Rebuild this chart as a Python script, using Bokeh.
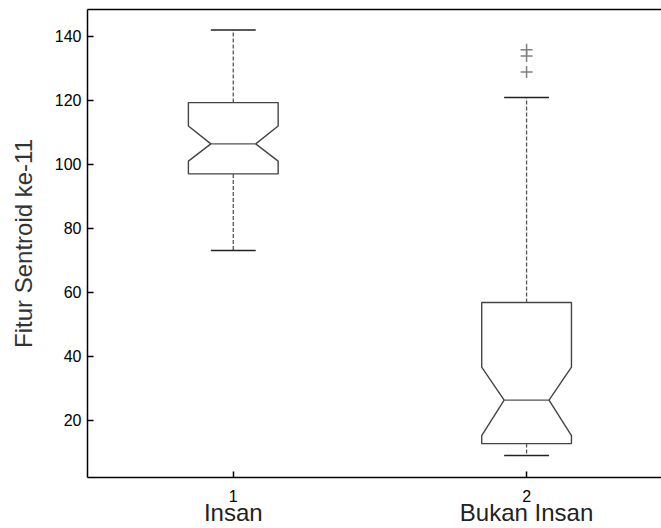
from bokeh.plotting import figure
from bokeh.models import LinearAxis, FixedTicker, Range1d
from bokeh.embed import file_html
from bokeh.resources import INLINE

# ---- data ----
categories = ["Insan", "Bukan Insan"]
positions = [1, 2]
tick_labels = ["1", "2"]
q1 = [97.0, 12.7]
median = [106.4, 26.3]
q3 = [119.3, 56.8]
notch_lo = [101.0, 15.2]
notch_hi = [112.0, 36.6]
whisker_lo = [73.1, 9.0]
whisker_hi = [142.0, 120.9]
outliers = [[], [135.8, 133.9, 128.9]]
y_ticks = [20, 40, 60, 80, 100, 120, 140]

# ---- style ----
HALF_W = 0.153
FONT = "Liberation Sans"

p = figure(width=661, height=528,
           x_range=Range1d(0.503, 2.46), y_range=Range1d(2.1, 148.4),
           output_backend="svg", toolbar_location=None,
           x_axis_location=None, y_axis_location=None,
           min_border_left=87, min_border_top=9, min_border_right=0,
           min_border_bottom=0)
p.outline_line_color = None
p.grid.visible = False
p.background_fill_color = "white"

# left axis
yax = LinearAxis(ticker=FixedTicker(ticks=y_ticks), axis_label="Fitur Sentroid ke-11")
yax.axis_line_width = 1.5
yax.axis_line_color = "black"
yax.major_tick_in = 6
yax.major_tick_out = 0
yax.major_tick_line_width = 1.5
yax.minor_tick_line_color = None
yax.major_label_text_font = FONT
yax.major_label_text_font_size = "16px"
yax.major_label_text_color = "black"
yax.major_label_standoff = 6
yax.axis_label_text_font = FONT
yax.axis_label_text_font_size = "24px"
yax.axis_label_text_font_style = "normal"
yax.axis_label_text_color = "#333333"
yax.axis_label_standoff = 15
p.add_layout(yax, "left")

# top frame line
tax = LinearAxis(ticker=FixedTicker(ticks=[]))
tax.axis_line_width = 1.5
tax.axis_line_color = "black"
tax.major_tick_in = 0
tax.major_tick_out = 0
tax.minor_tick_line_color = None
tax.major_label_text_font_size = "0px"
tax.major_label_standoff = 0
p.add_layout(tax, "above")

# bottom axis with numeric ticks
xax = LinearAxis(ticker=FixedTicker(ticks=positions),
                 major_label_overrides={pos: lab for pos, lab in zip(positions, tick_labels)})
xax.axis_line_width = 1.5
xax.axis_line_color = "black"
xax.major_tick_in = 6
xax.major_tick_out = 0
xax.major_tick_line_width = 1.5
xax.minor_tick_line_color = None
xax.major_label_text_font = FONT
xax.major_label_text_font_size = "16px"
xax.major_label_text_color = "black"
xax.major_label_standoff = 12
p.add_layout(xax, "below")

# bottom axis with category names
cax = LinearAxis(ticker=FixedTicker(ticks=positions),
                 major_label_overrides={pos: lab for pos, lab in zip(positions, categories)})
cax.axis_line_color = None
cax.major_tick_line_color = None
cax.minor_tick_line_color = None
cax.major_tick_in = 0
cax.major_tick_out = 0
cax.major_label_text_font = FONT
cax.major_label_text_font_size = "24px"
cax.major_label_text_color = "#222222"
cax.major_label_standoff = -6
p.add_layout(cax, "below")

# notched boxes
box_xs, box_ys = [], []
for c, a, nl, m, nh, b in zip(positions, q1, notch_lo, median, notch_hi, q3):
    box_xs.append([c - HALF_W, c - HALF_W, c - HALF_W / 2, c - HALF_W, c - HALF_W,
                   c + HALF_W, c + HALF_W, c + HALF_W / 2, c + HALF_W, c + HALF_W])
    box_ys.append([a, nl, m, nh, b, b, nh, m, nl, a])
p.patches(box_xs, box_ys, fill_color=None, line_color="#444444", line_width=1.4)

# median lines
p.segment(x0=[c - HALF_W / 2 for c in positions], y0=median,
          x1=[c + HALF_W / 2 for c in positions], y1=median,
          line_color="#555555", line_width=1.2)

# whiskers (dashed)
p.segment(x0=positions, y0=q3, x1=positions, y1=whisker_hi,
          line_color="#555555", line_width=1.3, line_dash="4 2")
p.segment(x0=positions, y0=q1, x1=positions, y1=whisker_lo,
          line_color="#555555", line_width=1.3, line_dash="4 2")

# whisker caps
for w in (whisker_hi, whisker_lo):
    p.segment(x0=[c - HALF_W / 2 for c in positions], y0=w,
              x1=[c + HALF_W / 2 for c in positions], y1=w,
              line_color="#222222", line_width=1.5)

# outliers
ox, oy = [], []
for c, vals in zip(positions, outliers):
    for v in vals:
        ox.append(c)
        oy.append(v)
p.scatter(ox, oy, marker="cross", size=12, line_color="#808080", line_width=1.5)

open("out.html", "w").write(file_html(p, INLINE))
